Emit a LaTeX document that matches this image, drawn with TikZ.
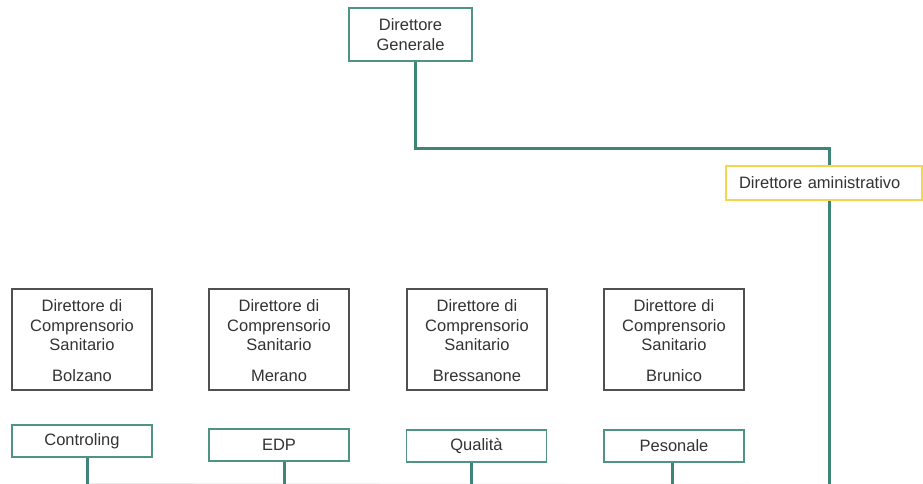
\documentclass[tikz,border=0pt]{standalone}
\usepackage{fontspec}
\setmainfont{Liberation Sans}
\definecolor{verde}{HTML}{3E8577}
\definecolor{verdebordo}{HTML}{4F9385}
\definecolor{giallo}{HTML}{F5D54C}
\definecolor{grigio}{HTML}{505050}
\tikzset{
  casella/.style={draw=verdebordo, line width=1.3pt, fill=white, align=center, inner sep=0pt,
    font=\fontsize{16.5}{19.5}\selectfont, text=black!80},
  direttore/.style={casella, draw=grigio, minimum width=140, minimum height=101},
  servizio/.style={casella, minimum width=140, minimum height=32},
  linea/.style={draw=verde, line width=3pt}
}
\begin{document}
\begin{tikzpicture}[x=1pt,y=-1pt]
  \useasboundingbox (0,0) rectangle (923,484);
  \node[casella, minimum width=123, minimum height=53] (dg) at (410.5,34.5) {Direttore\\Generale};
  \node[casella, draw=giallo, minimum width=196, minimum height=34, text width=170, align=left] (da) at (824,183) {Direttore aministrativo};
  % direttori di comprensorio
  \foreach \nome/\x in {Bolzano/82,Merano/279,Bressanone/477,Brunico/674}
    \node[direttore] (\nome) at (\x,339.5) {\rule{0pt}{15pt}Direttore di\\Comprensorio\\Sanitario\\[11.5pt]\nome};
  % servizi
  \node[servizio] (contr) at (82,441) {Controling};
  \node[servizio] (edp) at (279,445) {EDP};
  \node[servizio] (qual) at (476.5,446) {Qualità};
  \node[servizio] (pers) at (674,446) {Pesonale};
  \coordinate (g1) at (415,148);
  \coordinate (g2) at (829,148);
  \coordinate (b0) at (829,484);
  \coordinate (b1) at (87,484);
  \coordinate (b2) at (284,484);
  \coordinate (b3) at (471,484);
  \coordinate (b4) at (672,484);
  \draw[black!8, line width=0.8pt] (b1) ++(0,-0.5) -- ([yshift=-0.5]b0);
  \draw[linea] (g1 |- dg.south) -- (g1) -- (g2) -- (g2 |- da.north);
  \draw[linea] (g2 |- da.south) -- (b0);
  \draw[linea] (b1 |- contr.south) -- (b1);
  \draw[linea] (b2 |- edp.south) -- (b2);
  \draw[linea] (b3 |- qual.south) -- (b3);
  \draw[linea] (b4 |- pers.south) -- (b4);
\end{tikzpicture}
\end{document}
